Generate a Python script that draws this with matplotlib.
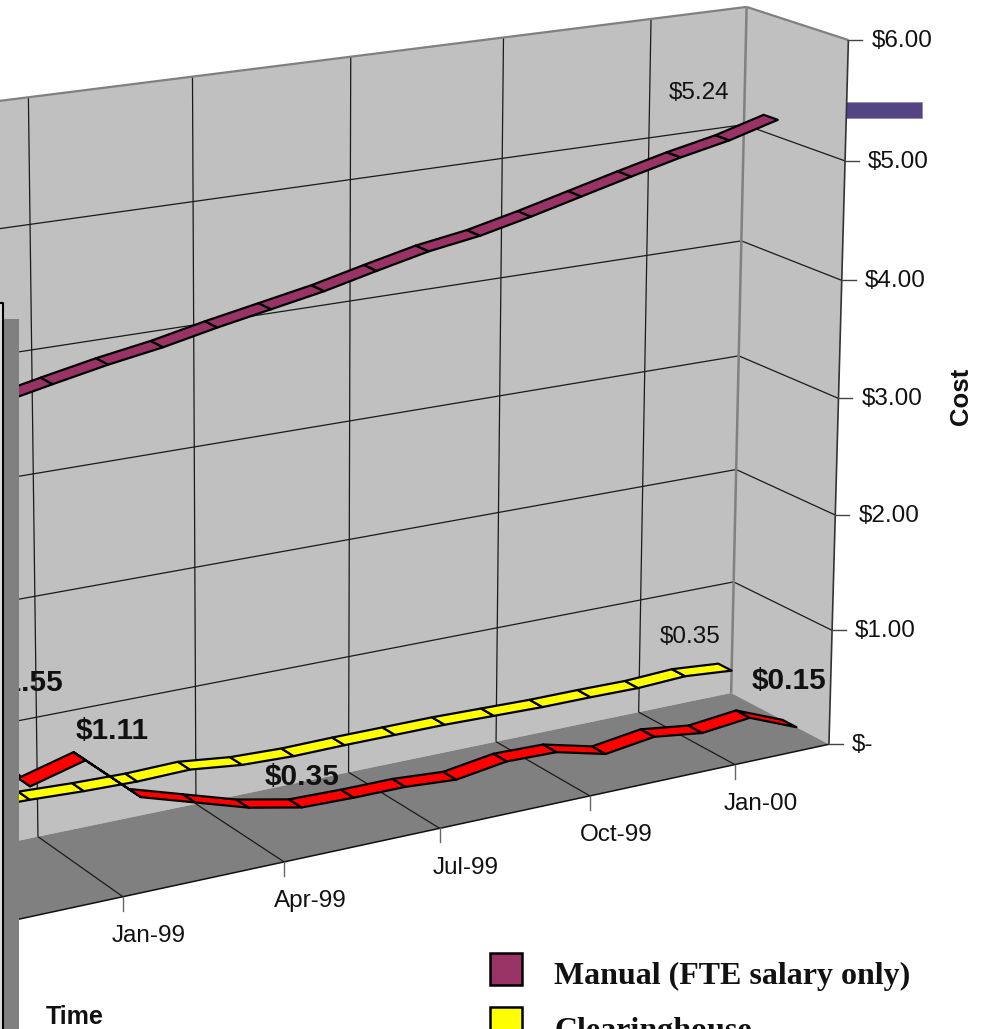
import numpy as np
import matplotlib
matplotlib.use('Agg')
import matplotlib.pyplot as plt
from matplotlib.patches import Polygon, Rectangle

# ---- data (month category position: Jan-99 tick = 0, points sit mid-category)
months = [-2.5, -1.5, -0.5, 0.5, 1.5, 2.5, 3.5, 4.5, 5.5, 6.5, 7.5, 8.5, 9.5, 10.5, 11.5, 12.5, 13.5]
manual = [3.79, 3.88, 3.97, 4.055, 4.125, 4.215, 4.295, 4.375, 4.475, 4.57, 4.635, 4.73, 4.835, 4.94, 5.04, 5.125, 5.24]
clearing = [0.49, 0.48, 0.47, 0.45, 0.44, 0.45, 0.40, 0.385, 0.39, 0.39, 0.39, 0.38, 0.37, 0.37, 0.365, 0.385, 0.35]
third = [1.55, 0.99, 1.11, 0.72, 0.585, 0.45, 0.36, 0.35, 0.35, 0.32, 0.385, 0.375, 0.27, 0.33, 0.275, 0.32, 0.15]
time_ticks = [-3, 0, 3, 6, 9, 12]
time_labels = ['Oct-98', 'Jan-99', 'Apr-99', 'Jul-99', 'Oct-99', 'Jan-00']
cost_ticks = [0, 1, 2, 3, 4, 5, 6]
cost_labels = ['$-', '$1.00', '$2.00', '$3.00', '$4.00', '$5.00', '$6.00']
legend_labels = ['Manual (FTE salary only)', 'Clearinghouse']

# ---- perspective of the 3-D box: (time, cost, depth) -> image pixels
anchors_3d = np.array([
    (0, 0, 0), (3, 0, 0), (6, 0, 0), (9, 0, 0), (12, 0, 0), (14, 0, 0),
    (0, 0, 1), (3, 0, 1), (6, 0, 1), (12, 0, 1), (14, 0, 1),
    (0, 6, 1), (3, 6, 1), (6, 6, 1), (9, 6, 1), (12, 6, 1), (14, 6, 1),
    (14, 6, 0), (14, 5, 0), (14, 1, 0)], float)
anchors_px = np.array([
    (123, 896), (284, 862), (441, 828), (590, 798), (736, 765), (828, 745),
    (37, 837), (197, 803), (348, 772), (638, 712), (731, 693),
    (28, 98), (193, 76), (349, 57), (503, 38), (656, 19), (745, 7),
    (848, 40), (844, 160), (832, 629)], float)
rows = []
rhs = []
for (a, b, c), (x, y) in zip(anchors_3d, anchors_px):
    rows.append([a, b, c, 1, 0, 0, 0, 0, -x * a, -x * b, -x * c]); rhs.append(x)
    rows.append([0, 0, 0, 0, a, b, c, 1, -y * a, -y * b, -y * c]); rhs.append(y)
sol = np.linalg.lstsq(np.array(rows), np.array(rhs), rcond=None)[0]
P = np.append(sol, 1).reshape(3, 4)


def proj(t, v, d):
    t, v, d = np.broadcast_arrays(np.asarray(t, float), np.asarray(v, float), np.asarray(d, float))
    h = P @ np.vstack([t.ravel(), v.ravel(), d.ravel(), np.ones(t.size)])
    return h[0] / h[2], h[1] / h[2]


plt.rcParams['font.family'] = ['Liberation Sans', 'DejaVu Sans']
fig = plt.figure(figsize=(9.83, 10.29), dpi=100)
ax = fig.add_axes([0, 0, 1, 1])
ax.set_xlim(0, 983)
ax.set_ylim(1029, 0)
ax.axis('off')

TMIN, TMAX = -6, 14
WALL, FLOOR = '#C0C0C0', '#808080'


def poly(corners, **kw):
    xs, ys = proj(*zip(*corners))
    ax.add_patch(Polygon(np.c_[xs, ys], closed=True, **kw))


def seg(a, b, **kw):
    xs, ys = proj(*zip(a, b))
    ax.plot(xs, ys, solid_capstyle='butt', **kw)


# stray bar behind the box
ax.add_patch(Rectangle((846, 102), 76, 16, fc='#544484', ec='#8a80b0', lw=0.5, zorder=0.5))

# walls + floor
poly([(TMIN, 0, 1), (TMAX, 0, 1), (TMAX, 6, 1), (TMIN, 6, 1)], fc=WALL, ec='none', zorder=1)
poly([(TMAX, 0, 1), (TMAX, 0, 0), (TMAX, 6, 0), (TMAX, 6, 1)], fc=WALL, ec='none', zorder=1)
poly([(TMIN, 0, 0), (TMAX, 0, 0), (TMAX, 0, 1), (TMIN, 0, 1)], fc=FLOOR, ec='none', zorder=1)

# gridlines
for c in cost_ticks[1:]:
    kw = dict(color='#1a1a1a', lw=0.9, zorder=2)
    if c == 6:
        kw = dict(color='#808080', lw=1.6, zorder=2.1)
    seg((TMIN, c, 1), (TMAX, c, 1), **kw)
    seg((TMAX, c, 1), (TMAX, c, 0), **kw)
for t in time_ticks:
    seg((t, 0, 1), (t, 6, 1), color='#1a1a1a', lw=0.9, zorder=2)
    seg((t, 0, 0), (t, 0, 1), color='#1a1a1a', lw=0.9, zorder=2)
seg((TMAX, 0, 1), (TMAX, 6, 1), color='#808080', lw=1.8, zorder=2.1)
seg((TMIN, 0, 0), (TMAX, 0, 0), color='#111111', lw=1.1, zorder=2.2)
seg((TMAX, 0, 0), (TMAX, 6, 0), color='#333333', lw=1.2, zorder=2.2)

# value axis ticks and labels
for c, lab in zip(cost_ticks, cost_labels):
    x, y = proj(TMAX, c, 0)
    ax.plot([x[0], x[0] + 14], [y[0], y[0]], color='#444444', lw=1.0, zorder=2.2)
    ax.text(x[0] + 23, y[0] + 7, lab, fontsize=17.5, ha='left', va='baseline', color='#111111', zorder=3)

# time axis ticks and labels (leftmost one runs behind the side panel)
for t, lab in zip(time_ticks, time_labels):
    x, y = proj(t, 0, 0)
    ax.plot([x[0], x[0]], [y[0], y[0] + 14], color='#666666', lw=1.0, zorder=2.2)
    ax.text(x[0] + 26, y[0] + 39.5, lab, fontsize=17.5, ha='center', va='center', color='#111111', zorder=3)


def ribbon(values, depth, color, z):
    hw = 0.07
    for i in range(len(months) - 1):
        t0, t1, v0, v1 = months[i], months[i + 1], values[i], values[i + 1]
        poly([(t0, v0, depth - hw), (t1, v1, depth - hw), (t1, v1, depth + hw), (t0, v0, depth + hw)],
             fc=color, ec='black', lw=1.6, joinstyle='round', zorder=z)


ribbon(clearing, 5 / 6, '#FFFF00', 4)
ribbon(manual, 1 / 2, '#993366', 4.5)
ribbon(third, 1 / 6, '#FF0000', 5)

# data labels
ax.text(699, 93, '$5.24', fontsize=17.5, ha='center', va='center', color='#111111', zorder=6)
ax.text(690, 637, '$0.35', fontsize=17.5, ha='center', va='center', color='#111111', zorder=6)
for x, y, s, z in [(789, 681, '$0.15', 6), (302, 777, '$0.35', 6), (112, 731, '$1.11', 6), (26.5, 683, '$1.55', 6)]:
    ax.text(x, y, s, fontsize=21.5, fontweight='bold', ha='center', va='center', color='#111111', zorder=z)

# axis titles
ax.text(75, 1017, 'Time', fontsize=18, fontweight='bold', ha='center', va='center', color='#111111', zorder=6)
ax.text(961, 396, 'Cost', fontsize=18.5, fontweight='bold', rotation=90, ha='center', va='center', color='#111111', zorder=6)

# side panel covering the left of the chart
ax.add_patch(Rectangle((0, 303), 3, 726, fc='#DDDDDD', ec='none', zorder=7))
ax.add_patch(Rectangle((3, 303), 16, 16, fc=WALL, ec='none', zorder=7))
ax.add_patch(Rectangle((3, 319), 16, 710, fc=FLOOR, ec='none', zorder=7))
ax.plot([0, 2.5, 2.5], [303, 303, 1029], color='black', lw=1.5, zorder=7.5)

# legend
for (y, col, lab, dy) in zip([952, 1006], ['#993366', '#FFFF00'], legend_labels, [32, 33]):
    ax.add_patch(Rectangle((490, y + 1), 32, 32, fc=col, ec='black', lw=1.8, zorder=8))
    ax.text(554, y + dy, lab, family=['Liberation Serif', 'DejaVu Serif'], fontsize=23,
            fontweight='bold', ha='left', va='baseline', color='#111111', zorder=8)

fig.savefig('out.png', dpi=100)
